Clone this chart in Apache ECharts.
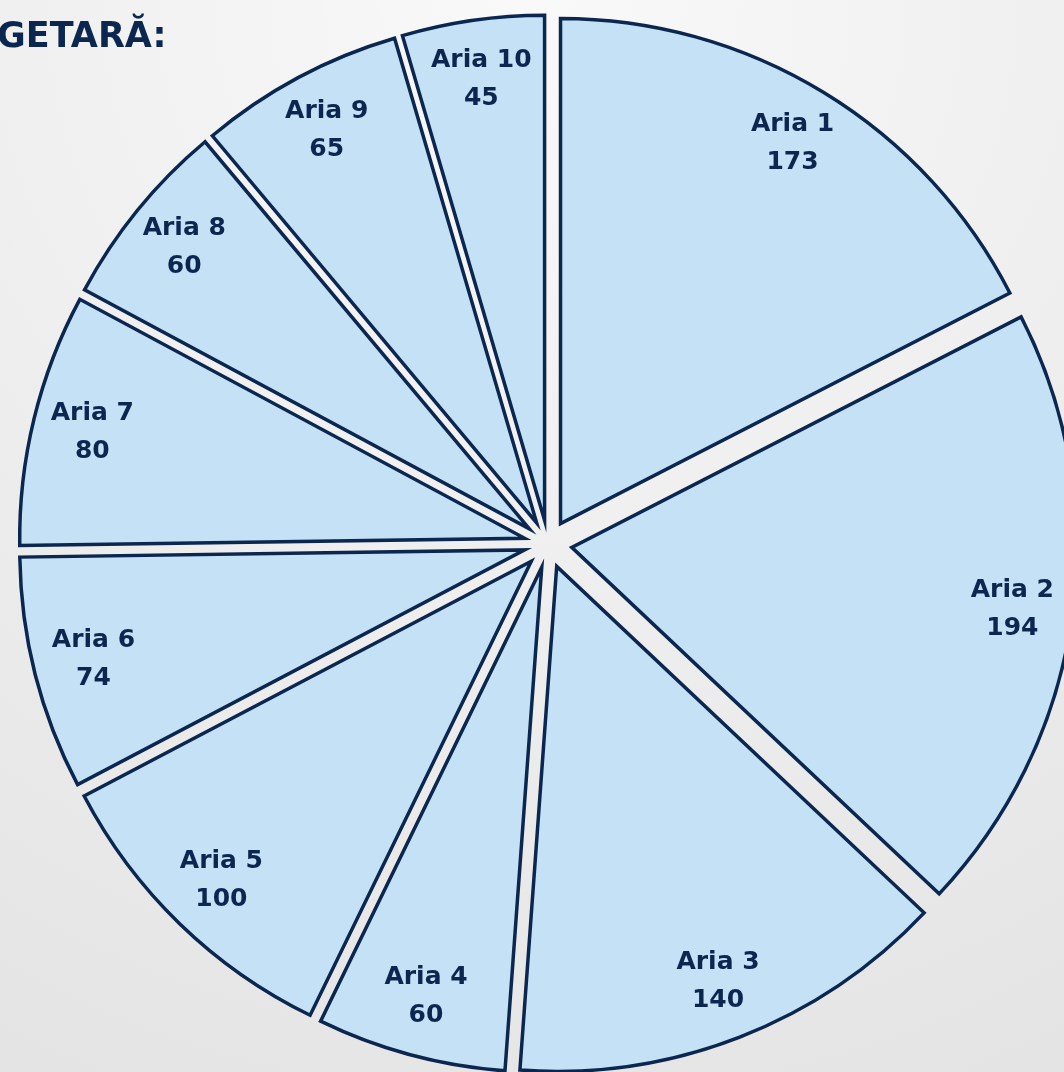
<!DOCTYPE html>
<html>
<head>
<meta charset="utf-8">
<script src="https://cdn.jsdelivr.net/npm/echarts@6/dist/echarts.min.js"></script>
<style>
html,body{margin:0;padding:0;width:1064px;height:1072px;overflow:hidden;}
#c{width:1064px;height:1072px;}
</style>
</head>
<body>
<div id="c"></div>
<script>
const categories = ['Aria 1','Aria 2','Aria 3','Aria 4','Aria 5','Aria 6','Aria 7','Aria 8','Aria 9','Aria 10'];
const values = [173,194,140,60,100,74,80,60,65,45];
const titleText = 'GETARĂ:';

const navy = '#0b2750';
const fill = '#c4e1f6';

const sliceData = categories.map((n,i)=>({name:n, value:values[i], selected:true}));

const chart = echarts.init(document.getElementById('c'), null, {renderer:'canvas'});
chart.setOption({
  backgroundColor: {
    type:'radial', x:0.5, y:0.0, r:1.2,
    colorStops:[{offset:0,color:'#f9f9f9'},{offset:1,color:'#e2e2e2'}]
  },
  animation:false,
  title:{
    text:titleText, left:-8, top:15,
    textStyle:{color:navy, fontFamily:'DejaVu Sans', fontWeight:'bold', fontSize:35}
  },
  series:[
    {
      type:'pie', center:[548,544], radius:[0,505], startAngle:90, clockwise:true,
      selectedMode:'multiple', selectedOffset:24, silent:true,
      itemStyle:{color:fill, borderColor:navy, borderWidth:3.5, borderJoin:'miter'},
      label:{show:false}, labelLine:{show:false},
      emphasis:{disabled:true},
      data: sliceData
    },
    {
      type:'pie', center:[548,544], radius:[382,502], startAngle:90, clockwise:true,
      selectedMode:'multiple', selectedOffset:24, silent:true,
      itemStyle:{color:'rgba(0,0,0,0)', borderWidth:0},
      label:{show:true, position:'inside', formatter:'{b}\n{c}', color:navy,
             fontFamily:'DejaVu Sans', fontWeight:'bold', fontSize:25, lineHeight:38, align:'center'},
      labelLine:{show:false},
      emphasis:{disabled:true},
      data: sliceData
    }
  ]
});
</script>
</body>
</html>
